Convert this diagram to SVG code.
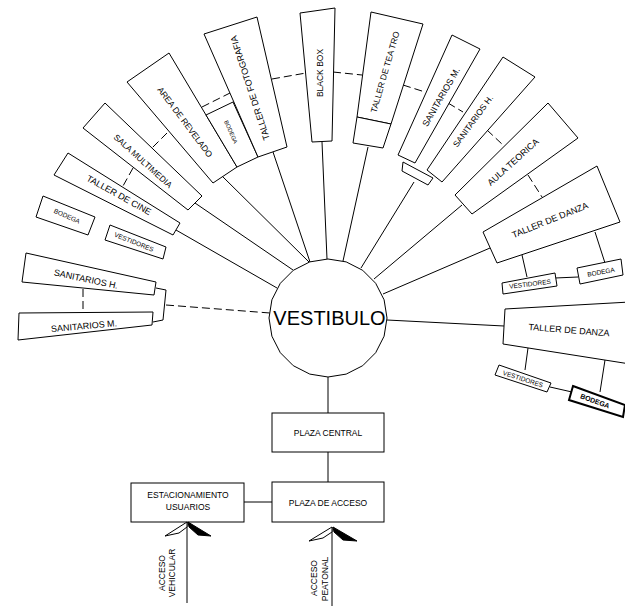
<svg xmlns="http://www.w3.org/2000/svg" width="625" height="606" viewBox="0 0 625 606">
<style>
.b{fill:#fff;stroke:#000;stroke-width:1}
.bb{fill:#fff;stroke:#000;stroke-width:2}
.l{stroke:#000;stroke-width:1;fill:none}
.d{stroke:#000;stroke-width:1;fill:none;stroke-dasharray:8 4}
text{font-family:"Liberation Sans",Arial,sans-serif;fill:#000;text-anchor:middle}
.t9{font-size:9px}
.t85{font-size:8.5px}
.t6{font-size:6.5px}
</style>
<rect width="625" height="606" fill="#fff"/>
<g id="connectors">
<line class="l" x1="176" y1="230" x2="277" y2="288"/>
<line class="l" x1="195" y1="203" x2="293" y2="270"/>
<line class="l" x1="222" y1="176" x2="309" y2="262"/>
<line class="l" x1="273" y1="152" x2="310" y2="262"/>
<line class="l" x1="322" y1="142" x2="327" y2="259"/>
<line class="l" x1="368" y1="147" x2="343" y2="261"/>
<line class="l" x1="414" y1="182" x2="361" y2="268"/>
<line class="l" x1="462" y1="205" x2="374" y2="279"/>
<line class="l" x1="490" y1="248" x2="383" y2="294"/>
<line class="l" x1="387" y1="320" x2="504" y2="326"/>
<line class="d" x1="166" y1="305" x2="270" y2="313"/>
<line class="l" x1="328" y1="377" x2="328" y2="413"/>
<line class="l" x1="328" y1="452" x2="328" y2="482"/>
<line class="l" x1="244" y1="502" x2="272" y2="502"/>
<line class="l" x1="187" y1="522" x2="187" y2="603"/>
<line class="l" x1="332" y1="527" x2="332" y2="606"/>
<line class="l" x1="522" y1="255" x2="527" y2="277"/>
<line class="l" x1="595" y1="232" x2="605" y2="263"/>
<line class="l" x1="555" y1="278" x2="578" y2="277"/>
<line class="l" x1="528" y1="348" x2="525" y2="370"/>
<line class="l" x1="605" y1="360" x2="600" y2="392"/>
<line class="l" x1="550" y1="387" x2="572" y2="392"/>
<polyline class="l" points="156,288 166,290 163,320 153,322"/>
<line class="d" x1="83" y1="289" x2="83" y2="312"/>
<line class="d" x1="133" y1="168" x2="123" y2="186"/>
<line class="d" x1="167" y1="133" x2="152" y2="148"/>
<line class="d" x1="202" y1="107" x2="230" y2="93"/>
<line class="d" x1="272" y1="79" x2="306" y2="73"/>
<line class="d" x1="333" y1="72" x2="362" y2="75"/>
<line class="d" x1="403" y1="85" x2="425" y2="92"/>
<line class="d" x1="448" y1="103" x2="463" y2="112"/>
<line class="d" x1="487" y1="130" x2="503" y2="145"/>
<line class="d" x1="528" y1="175" x2="542" y2="197"/>
</g>
<g id="vestibulo">
<polygon class="b" points="328,259 346.2,261.9 362.7,270.3 375.7,283.3 384.1,299.8 387,318 384.1,336.2 375.7,352.7 362.7,365.7 346.2,374.1 328,377 309.8,374.1 293.3,365.7 280.3,352.7 271.9,336.2 269,318 271.9,299.8 280.3,283.3 293.3,270.3 309.8,261.9"/>
<text x="329.5" y="325" style="font-size:20px">VESTIBULO</text>
</g>
<g id="taller-cine">
<polygon class="b" points="68,153 180,223 173,235 54,175"/>
<text class="t9" transform="translate(119,195) rotate(29)" dy="0.35em">TALLER DE CINE</text>
</g>
<g id="bodega-cine">
<polygon class="b" points="43,196 95,217 88,235 36,217"/>
<text class="t6" transform="translate(67,216) rotate(24)" dy="0.35em">BODEGA</text>
</g>
<g id="vestidores-cine">
<polygon class="b" points="110,225 166,247 163,259 105,240"/>
<text class="t6" transform="translate(134,242) rotate(22)" dy="0.35em">VESTIDORES</text>
</g>
<g id="sala-multimedia">
<polygon class="b" points="105,103 202,196 188,210 83,128"/>
<text class="t85" transform="translate(143,161) rotate(42)" dy="0.35em">SALA MULTIMEDIA</text>
</g>
<g id="area-revelado">
<polygon class="b" points="127,82 169,53 237,167 213,183"/>
<text class="t85" transform="translate(185,122) rotate(53)" dy="0.35em">AREA DE REVELADO</text>
</g>
<g id="bodega-foto">
<polygon class="b" points="206,115 233,102 258,157 237,167"/>
<text transform="translate(231,132) rotate(66)" dy="0.35em" style="font-size:5.8px">BODEGA</text>
</g>
<g id="taller-fotografia">
<polygon class="b" points="204,34 257,17 287,147 258,157"/>
<text class="t9" transform="translate(250,88) rotate(-108)" dy="0.35em">TALLER DE FOTOGRAFIA</text>
</g>
<g id="black-box">
<polygon class="b" points="300,13 335,8 332,141 312,142"/>
<text class="t85" transform="translate(320.5,73) rotate(-90)" dy="0.35em">BLACK BOX</text>
</g>
<g id="taller-teatro">
<polygon class="b" points="371,12 423,24 391,124 357,117"/>
<polygon class="b" points="357,117 391,124 383,148 353,143"/>
<text class="t85" transform="translate(385,72) rotate(-74)" dy="0.35em">TALLER DE TEA TRO</text>
</g>
<g id="sanitarios-m-top">
<polygon class="b" points="452,35 480,49 415,163 398,155"/>
<polygon class="b" points="403,162 433,178 428,185 402,171"/>
<text class="t9" transform="translate(441,97) rotate(-60)" dy="0.35em">SANITARIOS M.</text>
</g>
<g id="sanitarios-h-top">
<polygon class="b" points="503,57 535,77 442,182 427,170"/>
<text class="t85" transform="translate(473,121) rotate(-54)" dy="0.35em">SANITARIOS H.</text>
</g>
<g id="aula-teorica">
<polygon class="b" points="548,103 578,138 472,214 455,195"/>
<text class="t9" transform="translate(513,162) rotate(-42)" dy="0.35em">AULA TEORICA</text>
</g>
<g id="taller-danza-1">
<polygon class="b" points="483,232 597,166 620,222 497,263"/>
<text class="t9" transform="translate(550,220) rotate(-22)" dy="0.35em">TALLER DE DANZA</text>
</g>
<g id="vestidores-danza-1">
<polygon class="b" points="502,283 555,273 557,286 503,294"/>
<text class="t6" transform="translate(530,284) rotate(-7)" dy="0.35em">VESTIDORES</text>
</g>
<g id="bodega-danza-1">
<polygon class="b" points="577,268 621,259 623,275 580,284"/>
<text class="t6" transform="translate(601,272) rotate(-10)" dy="0.35em">BODEGA</text>
</g>
<g id="taller-danza-2">
<polygon class="b" points="505,309 630,302 630,364 503,344"/>
<text class="t9" transform="translate(569,330) rotate(4.5)" dy="0.35em">TALLER DE DANZA</text>
</g>
<g id="vestidores-danza-2">
<polygon class="b" points="499,365 551,383 547,392 495,375"/>
<text class="t6" transform="translate(523,379) rotate(18)" dy="0.35em">VESTIDORES</text>
</g>
<g id="bodega-danza-2">
<polygon class="bb" points="573,386 625,405 623,417 569,400"/>
<text transform="translate(595,401) rotate(20)" dy="0.35em" style="font-size:7px;font-weight:bold">BODEGA</text>
</g>
<g id="sanitarios-h-left">
<polygon class="b" points="26,253 156,282 154,295 22,282"/>
<text class="t9" transform="translate(86,279) rotate(12)" dy="0.35em">SANITARIOS H.</text>
</g>
<g id="sanitarios-m-left">
<polygon class="b" points="19,313 153,312 152,325 18,340"/>
<text class="t9" transform="translate(84,326) rotate(-5)" dy="0.35em">SANITARIOS M.</text>
</g>
<g id="plaza-central">
<rect class="b" x="272" y="413" width="112" height="39"/>
<text class="t85" x="328" y="436">PLAZA CENTRAL</text>
</g>
<g id="plaza-acceso">
<rect class="b" x="272" y="482" width="112" height="40"/>
<text class="t85" x="328" y="506">PLAZA DE ACCESO</text>
</g>
<g id="estacionamiento">
<rect class="b" x="131" y="483" width="113" height="39"/>
<text class="t85" x="188" y="498">ESTACIONAMIENTO</text>
<text class="t85" x="188" y="510">USUARIOS</text>
</g>
<g id="acceso-vehicular">
<polygon points="187,522 165,536 179,533 187,527" fill="#fff" stroke="#000" stroke-width="1"/>
<polygon points="188,522 211,536 198,535 189,527" fill="#000" stroke="#000" stroke-width="1"/>
<text class="t85" transform="translate(165,573) rotate(-90)">ACCESO</text>
<text class="t85" transform="translate(175,573) rotate(-90)">VEHICULAR</text>
</g>
<g id="acceso-peatonal">
<polygon points="332,527 309,541 323,538 332,532" fill="#fff" stroke="#000" stroke-width="1"/>
<polygon points="333,527 357,541 343,540 334,532" fill="#000" stroke="#000" stroke-width="1"/>
<text class="t85" transform="translate(317,578) rotate(-90)">ACCESO</text>
<text class="t85" transform="translate(328,579) rotate(-90)">PEATONAL</text>
</g>
</svg>
